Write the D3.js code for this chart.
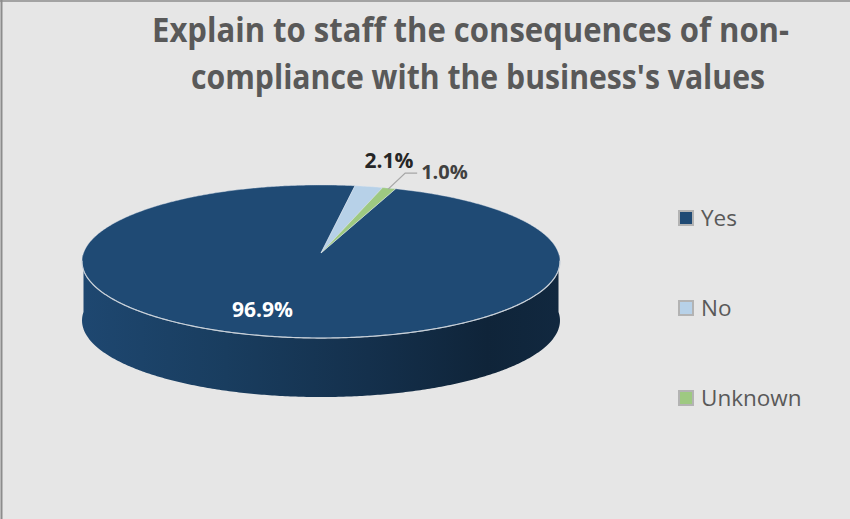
<!DOCTYPE html>
<html>
<head>
<meta charset="utf-8">
<script src="https://cdn.jsdelivr.net/npm/d3@7"></script>
<style>
  html, body { margin: 0; padding: 0; background: #e6e6e6; }
  svg { display: block; }
</style>
</head>
<body>
<svg id="chart" width="850" height="519"></svg>
<script>
// Survey answers and their shares (percent)
const categories = ["Yes", "No", "Unknown"];
const shares = [96.9, 2.1, 1.0];
const labels = ["96.9%", "2.1%", "1.0%"];
const colors = ["#1f4a74", "#b7d1e8", "#9ec981"];
const titleLines = ["Explain to staff the consequences of non-", "compliance with the business's values"];

const W = 850, H = 519;
const svg = d3.select("#chart");

// Chart area and frame
svg.append("rect").attr("width", W).attr("height", H).attr("fill", "#e6e6e6");
svg.append("line").attr("x1", 1.5).attr("y1", 0).attr("x2", 1.5).attr("y2", H)
  .attr("stroke", "#8c8c8c").attr("stroke-width", 2);
svg.append("line").attr("x1", 0).attr("y1", 1).attr("x2", W).attr("y2", 1)
  .attr("stroke", "#8c8c8c").attr("stroke-width", 1.5);

// Title, two centred lines fitted to the title width
const titleSpec = [{ y: 42, x1: 152, x2: 789 }, { y: 89, x1: 191, x2: 765 }];
titleLines.forEach((t, i) => {
  const s = titleSpec[i];
  svg.append("text")
    .attr("x", (s.x1 + s.x2) / 2).attr("y", s.y)
    .attr("text-anchor", "middle")
    .attr("font-family", "'Open Sans', sans-serif")
    .attr("font-weight", 700).attr("font-size", 34)
    .attr("fill", "#595959")
    .attr("textLength", s.x2 - s.x1)
    .attr("lengthAdjust", "spacingAndGlyphs")
    .text(t);
});

// 3D pie geometry: a tilted disc seen in perspective
const cx = 321, cy = 253, Rx = 237.5, Ry = 75.6, persp = 0.111, depth = 59;
const startDeg = 20.3;

function proj(theta, r, dz) {
  const u = r * Math.sin(theta), v = r * Math.cos(theta);
  const w = 1 + persp * v;
  return [cx + Rx * u / w, cy - Ry * v / w + (dz || 0)];
}
function arcPts(a0, a1, r, dz) {
  const n = Math.max(2, Math.ceil(Math.abs(a1 - a0) / 0.01));
  const pts = [];
  for (let i = 0; i <= n; i++) pts.push(proj(a0 + (a1 - a0) * i / n, r, dz));
  return pts;
}

const pie = d3.pie().sort(null).value(d => d)
  .startAngle(startDeg * Math.PI / 180)
  .endAngle(startDeg * Math.PI / 180 + 2 * Math.PI);
const arcs = pie(shares);

const defs = svg.append("defs");
const line = d3.line();

// Side wall: only the near half of the rim faces the viewer
const nearA = Math.PI / 2, nearB = 3 * Math.PI / 2;
arcs.forEach((a, i) => {
  const ranges = [];
  for (let k = -1; k <= 1; k++) {
    const s = Math.max(a.startAngle + k * 2 * Math.PI, nearA);
    const e = Math.min(a.endAngle + k * 2 * Math.PI, nearB);
    if (e > s) ranges.push([s, e]);
  }
  const base = d3.color(colors[i]);
  const g = defs.append("linearGradient").attr("id", "side" + i)
    .attr("gradientUnits", "userSpaceOnUse")
    .attr("x1", cx - Rx).attr("x2", cx + Rx).attr("y1", 0).attr("y2", 0);
  g.append("stop").attr("offset", 0).attr("stop-color", base.darker(0.1));
  g.append("stop").attr("offset", 0.3).attr("stop-color", base.darker(0.55));
  g.append("stop").attr("offset", 0.6).attr("stop-color", base.darker(1.2));
  g.append("stop").attr("offset", 0.85).attr("stop-color", base.darker(2.0));
  g.append("stop").attr("offset", 1).attr("stop-color", base.darker(1.7));
  ranges.forEach(([s, e]) => {
    const top = arcPts(s, e, 1, 0);
    const bot = arcPts(e, s, 1, depth);
    svg.append("path").attr("d", line(top.concat(bot)) + "Z")
      .attr("fill", "url(#side" + i + ")");
  });
});

// Top face slices
arcs.forEach((a, i) => {
  const pts = [proj(0, 0, 0)].concat(arcPts(a.startAngle, a.endAngle, 1, 0));
  svg.append("path").attr("d", line(pts) + "Z")
    .attr("fill", colors[i])
    .attr("stroke", "#dfe6ee").attr("stroke-opacity", 0.55).attr("stroke-width", 0.8)
    .attr("stroke-linejoin", "round");
});

// Light highlight along the front rim
svg.append("path").attr("d", line(arcPts(nearA + 0.1, nearB - 0.1, 1, 0)))
  .attr("fill", "none").attr("stroke", "#c8d0d8").attr("stroke-width", 1.2);

// Data labels
const mid = a => (a.startAngle + a.endAngle) / 2;
const inner = proj(mid(arcs[0]), 0.74, 0);
svg.append("text")
  .attr("x", inner[0] - 10).attr("y", inner[1] + 5)
  .attr("text-anchor", "middle")
  .attr("font-family", "'Open Sans', sans-serif").attr("font-weight", 700)
  .attr("font-size", 21).attr("fill", "#ffffff")
  .text(labels[0]);

const rimNo = proj(mid(arcs[1]), 1, 0);
svg.append("text")
  .attr("x", rimNo[0] + 20).attr("y", rimNo[1] - 19)
  .attr("text-anchor", "middle")
  .attr("font-family", "'Open Sans', sans-serif").attr("font-weight", 700)
  .attr("font-size", 21).attr("fill", "#262626")
  .text(labels[1]);

const rimUn = proj(mid(arcs[2]), 1, 0);
const elbow = [rimUn[0] + 16, rimUn[1] - 15];
svg.append("path")
  .attr("d", line([[rimUn[0] - 1, rimUn[1] + 1], elbow, [elbow[0] + 12, elbow[1]]]))
  .attr("fill", "none").attr("stroke", "#a6a6a6").attr("stroke-width", 1.3);
svg.append("text")
  .attr("x", elbow[0] + 16).attr("y", elbow[1] + 6)
  .attr("font-family", "'Open Sans', sans-serif").attr("font-weight", 700)
  .attr("font-size", 20).attr("fill", "#404040")
  .text(labels[2]);

// Legend
const legendY = d3.scalePoint().domain(categories).range([218, 398]);
const legend = svg.append("g");
categories.forEach((c, i) => {
  const y = legendY(c);
  legend.append("rect")
    .attr("x", 679).attr("y", y - 7).attr("width", 14).attr("height", 14)
    .attr("fill", colors[i]).attr("stroke", "#b3b3b3").attr("stroke-width", 2);
  legend.append("text")
    .attr("x", 701).attr("y", y + 8)
    .attr("font-family", "'Open Sans', sans-serif")
    .attr("font-size", 22.5).attr("fill", "#595959")
    .text(c);
});
</script>
</body>
</html>
